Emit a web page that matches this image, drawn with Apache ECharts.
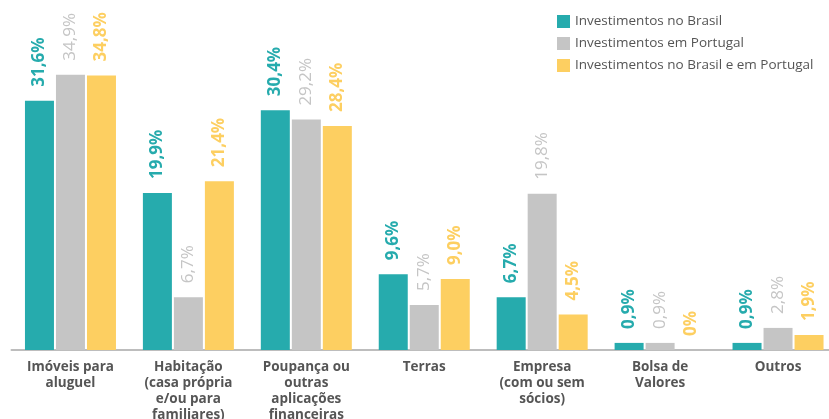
<!DOCTYPE html>
<html>
<head>
<meta charset="utf-8">
<script src="https://cdn.jsdelivr.net/npm/echarts@6/dist/echarts.min.js"></script>
<style>
html,body{margin:0;padding:0;background:#fff;}
#chart{width:829px;height:419px;}
</style>
</head>
<body>
<div id="chart"></div>
<script>
const categories = [
  'Imóveis para\naluguel',
  'Habitação\n(casa própria\ne/ou para\nfamiliares)',
  'Poupança ou\noutras\naplicações\nfinanceiras',
  'Terras',
  'Empresa\n(com ou sem\nsócios)',
  'Bolsa de\nValores',
  'Outros'
];
const seriesNames = [
  'Investimentos no Brasil',
  'Investimentos em Portugal',
  'Investimentos no Brasil e em Portugal'
];
const brasil = [31.6, 19.9, 30.4, 9.6, 6.7, 0.9, 0.9];
const portugal = [34.9, 6.7, 29.2, 5.7, 19.8, 0.9, 2.8];
const ambos = [34.8, 21.4, 28.4, 9.0, 4.5, 0, 1.9];

const colors = ['#26abad', '#c5c5c5', '#fdcf61'];
const weights = ['bold', 'normal', 'bold'];
const FONT = '"Open Sans", sans-serif';

function fmt(v) {
  return (v === 0 ? '0' : v.toFixed(1).replace('.', ',')) + '%';
}

function makeSeries(name, data, i) {
  return {
    name: name,
    type: 'bar',
    data: data,
    barWidth: 29,
    barGap: '6.9%',
    itemStyle: { color: colors[i] },
    label: {
      show: true,
      position: 'top',
      rotate: 90,
      align: 'left',
      verticalAlign: 'middle',
      distance: 14,
      color: colors[i],
      fontFamily: FONT,
      fontSize: 17,
      fontWeight: weights[i],
      formatter: p => fmt(p.value)
    }
  };
}

const chart = echarts.init(document.getElementById('chart'));
chart.setOption({
  animation: false,
  legend: {
    orient: 'vertical',
    left: 557,
    top: 14.5,
    padding: 0,
    itemWidth: 13,
    itemHeight: 13,
    itemGap: 8,
    icon: 'rect',
    textStyle: { color: '#555', fontSize: 13.5, fontFamily: FONT },
    data: seriesNames
  },
  grid: { left: 11.5, top: 34.4, width: 825.5, bottom: 69, outerBoundsMode: 'none', containLabel: false },
  xAxis: {
    type: 'category',
    data: categories,
    axisLine: { lineStyle: { color: '#bdbdbd', width: 2 } },
    axisTick: { show: false },
    axisLabel: {
      color: '#555',
      fontSize: 13.5,
      fontWeight: 'bold',
      fontFamily: FONT,
      lineHeight: 16,
      margin: 9,
      interval: 0
    }
  },
  yAxis: {
    type: 'value',
    min: 0,
    max: 40,
    show: false,
    splitLine: { show: false }
  },
  series: [
    makeSeries(seriesNames[0], brasil, 0),
    makeSeries(seriesNames[1], portugal, 1),
    makeSeries(seriesNames[2], ambos, 2)
  ]
});
</script>
</body>
</html>
